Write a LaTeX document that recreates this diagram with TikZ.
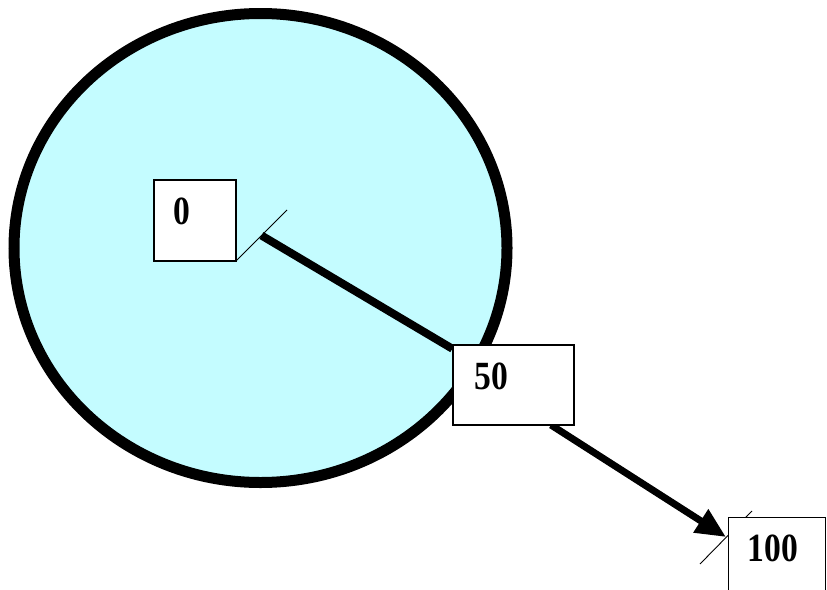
\documentclass[tikz,border=0pt]{standalone}
\usepackage{fontspec}
\setmainfont{Liberation Serif}
\usetikzlibrary{arrows.meta}
\pgfdeclarelayer{bg}
\pgfdeclarelayer{mid}
\pgfsetlayers{bg,mid,main}
\definecolor{fillcyan}{RGB}{196,252,255}
\tikzset{
  box/.style={draw=black, line width=1.3pt, fill=white, rectangle, inner sep=0pt},
  num/.style={inner sep=0pt, font=\fontsize{40}{40}\selectfont\bfseries},
  thickline/.style={line width=8pt, black},
  tick/.style={line width=0.9pt, black},
}
\begin{document}
\begin{tikzpicture}[x=1pt,y=-1pt]
\useasboundingbox (0,0) rectangle (827,589);
\clip (0,0) rectangle (827,589);
% boxes
\node[box, minimum width=82pt, minimum height=81pt] (b0) at (195,220.5) {};
\node[box, minimum width=121pt, minimum height=80pt] (b50) at (513.5,385) {};
\node[box, minimum width=97pt, minimum height=80pt, anchor=north west] (b100) at (728,517) {};
% labels
\node[num] (t0) at (182,211) {\scalebox{0.84}[1]{0}};
\node[num] (t50) at (491,376) {\scalebox{0.84}[1]{50}};
\node[num] (t100) at (773,548) {\scalebox{0.84}[1]{100}};
\coordinate (s0) at (261.5,235.5);
\coordinate (a2) at (551,425);
\coordinate (tip) at (726,537);
\begin{pgfonlayer}{bg}
\fill[white] (0,0) rectangle (827,589);
\draw[line width=11pt, fill=fillcyan] (260.5,248) ellipse [x radius=246.5, y radius=234.5];
\end{pgfonlayer}
\begin{pgfonlayer}{mid}
\draw[thickline] (s0) -- (b50);
\draw[tick] ([shift={(-25.5,25.5)}]s0) -- ([shift={(25.5,-25.5)}]s0);
\draw[thickline, line width=7pt, -{Triangle[length=30pt,width=26pt]}] (a2) -- (tip);
\draw[tick] ([shift={(-26,27)}]tip) -- ([shift={(26,-26)}]tip);
\end{pgfonlayer}
\end{tikzpicture}
\end{document}
